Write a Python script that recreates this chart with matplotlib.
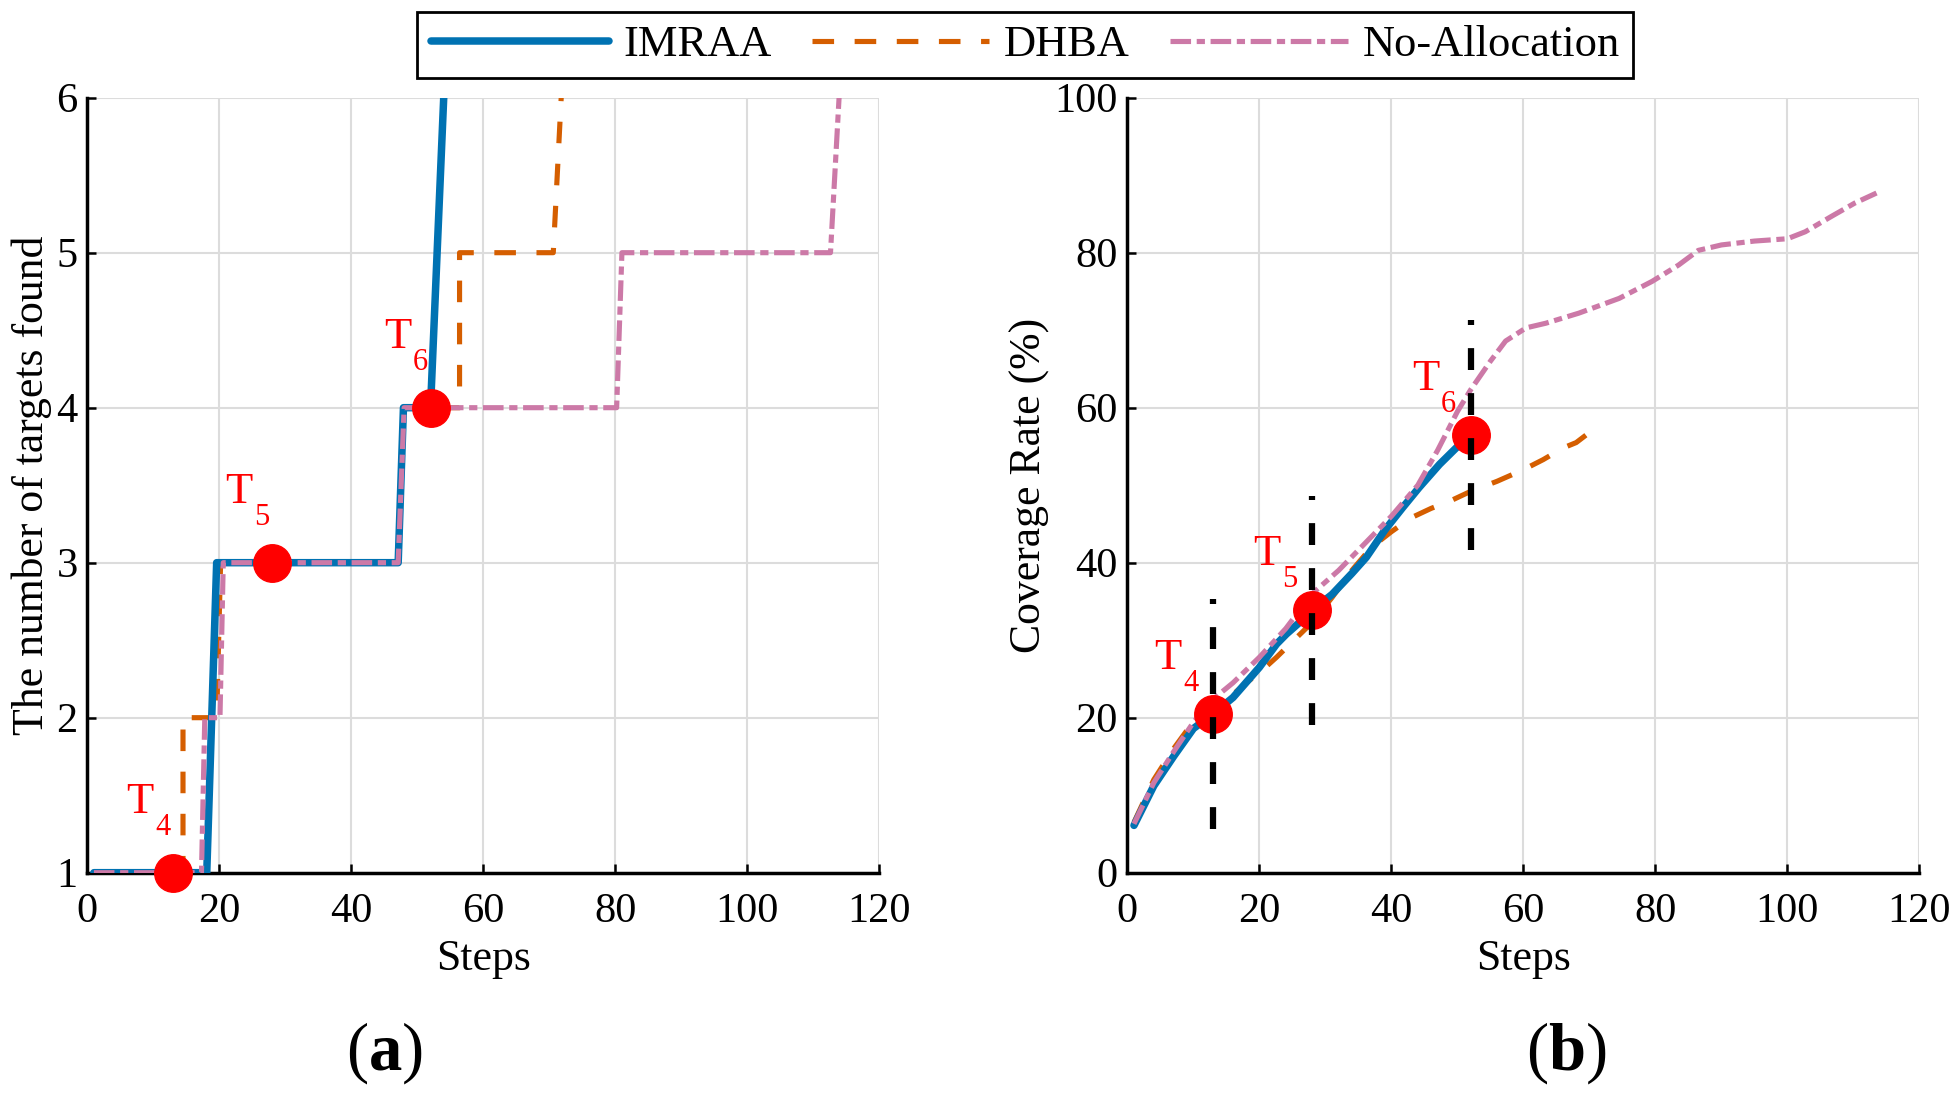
import numpy as np
import matplotlib
matplotlib.use("Agg")
import matplotlib.pyplot as plt

plt.rcParams['font.family'] = ['Liberation Serif', 'DejaVu Serif']
plt.rcParams['mathtext.fontset'] = 'custom'
plt.rcParams['mathtext.rm'] = 'Liberation Serif'
plt.rcParams['mathtext.bf'] = 'Liberation Serif:bold'

# ---- (a) number of targets found vs steps
imraa_steps = [1, 18.1, 19.6, 47.1, 47.9, 52, 54]
imraa_found = [1, 1, 3, 3, 4, 4, 6]
dhba_steps = [1, 14.5, 14.5, 16.3, 19.6, 20.2, 47.1, 47.9, 56.4, 56.4, 70.6, 71.8]
dhba_found = [1, 1, 2, 2, 2, 3, 3, 4, 4, 5, 5, 6]
noal_steps = [1, 17.3, 17.8, 20.1, 20.6, 47.1, 48.0, 80.2, 81.0, 112.6, 113.9]
noal_found = [1, 1, 2, 2, 3, 3, 4, 4, 5, 5, 6]

# ---- (b) coverage rate vs steps
imraa_cx = [1, 4, 7, 10, 13, 16, 20, 22.6, 24.1, 26.1, 28, 31, 34, 36.2, 39, 41.7, 44.2, 47.3, 49.8, 51.5]
imraa_cov = [6.1, 11.2, 15.0, 18.6, 20.5, 22.6, 26.5, 29.5, 30.8, 32.3, 33.9, 35.9, 38.6, 40.7, 44.2, 47.1, 49.7, 52.7, 54.8, 56.0]
dhba_cx = [1, 4, 7, 10, 13, 16, 18, 20, 22.6, 25, 28, 31, 34, 37, 40, 43, 46, 49, 52, 56, 60, 63, 66, 68, 70]
dhba_cov = [6.5, 12.0, 16.0, 19.5, 21.3, 23.0, 24.5, 25.8, 27.8, 29.8, 32.3, 35.5, 39.0, 42.0, 44.0, 45.8, 47.0, 48.0, 49.2, 50.5, 52.0, 53.3, 54.8, 55.5, 56.8]
noal_cx = [1, 4, 7, 10, 13, 16, 20, 24, 28, 32, 36, 40, 44, 47, 50, 52, 55, 57.3, 60.4, 63.4, 68.4, 74.5, 79.5, 83.5, 86.5, 90, 95, 100, 102.7, 106.7, 110.2, 113.5]
noal_cov = [6.3, 11.6, 15.6, 19.4, 22.4, 24.5, 27.8, 31.5, 36.0, 39.0, 42.5, 46.0, 50.0, 54.5, 59.5, 62.3, 66.0, 68.6, 70.3, 70.9, 72.2, 74.1, 76.3, 78.4, 80.3, 81.0, 81.5, 81.8, 82.7, 84.7, 86.4, 87.7]

# target discovery markers
t_names = ['4', '5', '6']
t_steps = [13, 28, 52]
t_found = [1, 3, 4]
t_cov = [20.5, 33.9, 56.5]
t_cov_lo = [5.7, 19.0, 41.7]
t_cov_hi = [35.3, 48.6, 71.3]

blue = '#0072B2'
orange = '#D55E00'
pink = '#CC79A7'
red = '#FF0000'

fig = plt.figure(figsize=(19.6, 10.94), dpi=100)
ax1 = fig.add_axes([0.04454, 0.2023, 0.4041, 0.7084])
ax2 = fig.add_axes([0.5752, 0.2023, 0.4041, 0.7084])

styles = dict(
    imraa=dict(color=blue, lw=5.4, ls='-', solid_capstyle='round', zorder=3),
    dhba=dict(color=orange, lw=3.7, ls=(0, (4.2, 4.0)), zorder=2.5),
    noal=dict(color=pink, lw=3.7, ls=(0, (4.0, 1.1, 1.6, 1.1)), zorder=3.5),
)

h1, = ax1.plot(imraa_steps, imraa_found, label='IMRAA', **styles['imraa'])
h2, = ax1.plot(dhba_steps, dhba_found, label='DHBA', **styles['dhba'])
h3, = ax1.plot(noal_steps, noal_found, label='No-Allocation', **styles['noal'])
ax1.plot(t_steps, t_found, 'o', color=red, ms=27, zorder=5, clip_on=False)

ax2.plot(imraa_cx, imraa_cov, **styles['imraa'])
ax2.plot(dhba_cx, dhba_cov, **styles['dhba'])
ax2.plot(noal_cx, noal_cov, **styles['noal'])
ax2.plot(t_steps, t_cov, 'o', color=red, ms=27, zorder=5, clip_on=False)
for x, lo, hi in zip(t_steps, t_cov_lo, t_cov_hi):
    ax2.plot([x, x], [lo, hi], color='black', lw=4.5, ls=(0, (3.5, 3.7)), zorder=6)

# T_k labels
def label_targets(ax, ys, t_off, s_off):
    for name, x, y in zip(t_names, t_steps, ys):
        ax.annotate('T', (x, y), xytext=t_off, textcoords='offset points',
                    ha='center', va='baseline', color=red, fontsize=32, zorder=7)
        ax.annotate(name, (x, y), xytext=s_off, textcoords='offset points',
                    ha='left', va='baseline', color=red, fontsize=22, zorder=7)

label_targets(ax1, t_found, (-23.8, 43.2), (-13.0, 27.4))
label_targets(ax2, t_cov, (-32.4, 32.4), (-21.6, 16.6))

for ax in (ax1, ax2):
    ax.set_xlim(0, 120)
    ax.set_xticks(range(0, 121, 20))
    ax.grid(True, color='#dcdcdc', lw=1.5)
    ax.set_axisbelow(True)
    for s in ('top', 'right'):
        ax.spines[s].set_visible(False)
    for s in ('left', 'bottom'):
        ax.spines[s].set_linewidth(2.5)
    ax.tick_params(direction='in', length=6.5, width=1.8, labelsize=30.5)
    ax.tick_params(axis='x', pad=14)
    ax.tick_params(axis='y', pad=7)
    ax.set_xlabel('Steps', fontsize=31.5)
    ax.xaxis.set_label_coords(0.5, -0.086)

ax1.set_ylim(1, 6)
ax1.set_yticks(range(1, 7))
ax1.set_ylabel('The number of targets found', fontsize=31.5)
ax1.yaxis.set_label_coords(-0.045, 0.5)

ax2.set_ylim(0, 100)
ax2.set_yticks(range(0, 101, 20))
ax2.set_ylabel('Coverage Rate (%)', fontsize=31.5)
ax2.yaxis.set_label_coords(-0.098, 0.5)

leg = fig.legend(handles=[h1, h2, h3], loc='upper center', bbox_to_anchor=(0.523, 0.9893),
                 ncol=3, fontsize=32, frameon=True, fancybox=False, framealpha=1,
                 edgecolor='black', handlelength=4.0, handletextpad=0.33,
                 columnspacing=0.9, borderpad=0.3, borderaxespad=0)
leg.get_frame().set_linewidth(2.0)

fig.text(0.1959, 0.0375, r'($\mathbf{a}$)', fontsize=48, ha='center', va='center')
fig.text(0.799, 0.0375, r'($\mathbf{b}$)', fontsize=48, ha='center', va='center')

fig.savefig('out.png', dpi=100)
